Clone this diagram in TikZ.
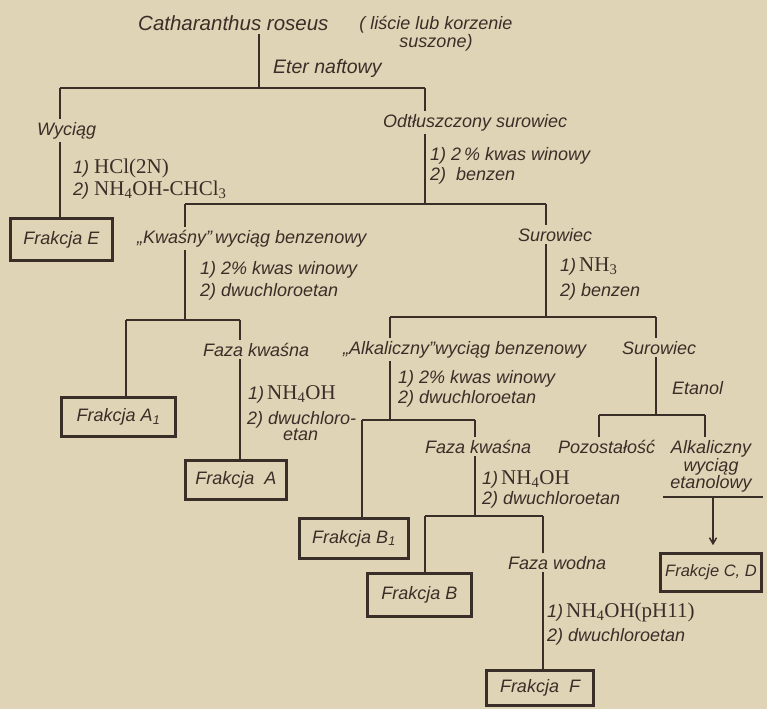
\documentclass[tikz,border=0pt]{standalone}
\usepackage{fontspec}
\newfontfamily\lettfam{Liberation Sans}
\newfontfamily\chemfam{Liberation Serif}
\usetikzlibrary{arrows.meta}
\definecolor{paper}{RGB}{224,212,182}
\definecolor{ink}{RGB}{58,46,40}
\newcommand\lettf{\lettfam\itshape\fontsize{18}{20}\selectfont}
\newcommand\chemf{\chemfam\upshape\fontsize{21}{20}\selectfont}
\newcommand\chem[1]{{\chemf #1}}
\tikzset{
  lbl/.style={anchor=base west, inner xsep=0pt, inner ysep=3pt, font=\lettf, text=ink},
  lblc/.style={lbl, anchor=base},
  lblm/.style={inner xsep=0pt, inner ysep=3pt, text=ink},
  frk/.style={draw=ink, line width=2.6pt, font=\lettf, text=ink, inner sep=0pt, anchor=center},
  ln/.style={draw=ink, line width=1.5pt},
}
\begin{document}
\begin{tikzpicture}[x=1pt,y=-1pt]
\fill[paper] (0,0) rectangle (767,709);
\useasboundingbox (0,0) rectangle (767,709);

% text nodes
\node[lbl, font=\lettfam\itshape\fontsize{20.5}{20}\selectfont] (cr) at (138,31) {Catharanthus roseus};
\node[lblm, anchor=north, align=center, font=\lettfam\itshape\fontsize{18}{16}\selectfont] (crn) at (436,13) {( liście lub korzenie\\suszone)};
\node[lbl, font=\lettfam\itshape\fontsize{19.5}{20}\selectfont] (eter) at (273,73) {Eter naftowy};
\node[lbl] (wyc) at (37,135) {Wyciąg};
\node[lbl] (odt) at (383,127) {Odtłuszczony surowiec};
\node[lbl] (r1a) at (430,160) {1)\ 2\,\% kwas winowy};
\node[lbl] (r1b) at (430,180) {2)\ \ benzen};
\node[lbl] (hcla) at (73,173) {1)\ \chem{HCl(2N)}};
\node[lbl] (hclb) at (73,195) {2)\ \chem{NH\textsubscript{4}OH-CHCl\textsubscript{3}}};
\node[lbl] (kw) at (137,243) {„Kwaśny”\,wyciąg benzenowy};
\node[lbl] (r2a) at (200,274) {1)\ 2\% kwas winowy};
\node[lbl] (r2b) at (200,296) {2)\ dwuchloroetan};
\node[lbl] (fk1) at (203,356) {Faza kwaśna};
\node[lbl] (r3a) at (248,399) {1)\,\chem{NH\textsubscript{4}OH}};
\node[lblm, anchor=north west, align=left, font=\lettfam\itshape\fontsize{18}{15}\selectfont] (r3b) at (247,408) {2) dwuchloro-\\\hspace*{36pt}etan};
\node[lbl] (sur1) at (518,241) {Surowiec};
\node[lbl] (r4a) at (560,271) {1)\,\chem{NH\textsubscript{3}}};
\node[lbl] (r4b) at (560,296) {2) benzen};
\node[lbl] (alk) at (343,354) {„Alkaliczny”wyciąg benzenowy};
\node[lbl] (sur2) at (622,354) {Surowiec};
\node[lbl] (r5a) at (398,383) {1) 2\% kwas winowy};
\node[lbl] (r5b) at (398,403) {2) dwuchloroetan};
\node[lbl] (etn) at (672,394) {Etanol};
\node[lbl] (fk2) at (425,453) {Faza kwaśna};
\node[lbl] (poz) at (558,453) {Pozostałość};
\node[lblm, anchor=north, align=center, font=\lettfam\itshape\fontsize{18}{15.5}\selectfont] (alw) at (711,437) {Alkaliczny\\wyciąg\\etanolowy};
\node[lbl] (r6a) at (482,484) {1)\,\chem{NH\textsubscript{4}OH}};
\node[lbl] (r6b) at (482,504) {2) dwuchloroetan};
\node[lbl] (wod) at (508,569) {Faza wodna};
\node[lbl] (r7a) at (547,617) {1)\,\chem{NH\textsubscript{4}OH(pH11)}};
\node[lbl] (r7b) at (547,641) {2) dwuchloroetan};

% boxes
\node[frk, minimum width=102pt, minimum height=42pt] (fE) at (61.5,239.5) {Frakcja E};
\node[frk, minimum width=114pt, minimum height=39pt] (fA1) at (118.5,417) {Frakcja A\textsubscript{1}};
\node[frk, minimum width=101pt, minimum height=39pt] (fA) at (236,480) {Frakcja\ \ A};
\node[frk, minimum width=109pt, minimum height=40pt] (fB1) at (354,538.5) {Frakcja B\textsubscript{1}};
\node[frk, minimum width=104pt, minimum height=43pt] (fB) at (419.5,595) {Frakcja B};
\node[frk, minimum width=107pt, minimum height=35pt] (fF) at (540,688) {Frakcja\ \ F};
\node[frk, minimum width=101pt, minimum height=38pt, font=\lettfam\itshape\fontsize{16.5}{20}\selectfont] (fCD) at (711,572.5) {Frakcje C, D};

% junctions
\coordinate (j1) at (259,88);
\coordinate (b1L) at (60,88);   \coordinate (b1R) at (425,88);
\coordinate (b2M) at (425,204); \coordinate (b2L) at (185,204); \coordinate (b2R) at (546,204);
\coordinate (b3M) at (185,320); \coordinate (b3L) at (126,320); \coordinate (b3R) at (240,320);
\coordinate (b4M) at (546,317); \coordinate (b4L) at (390,317); \coordinate (b4R) at (656,317);
\coordinate (b5M) at (390,420); \coordinate (b5L) at (362,420); \coordinate (b5R) at (475,420);
\coordinate (b6M) at (475,516); \coordinate (b6L) at (425,516); \coordinate (b6R) at (543,516);
\coordinate (b7M) at (656,415); \coordinate (b7L) at (599,415); \coordinate (b7R) at (705,415);
\coordinate (ulL) at (663,497); \coordinate (ulR) at (763,497); \coordinate (ulA) at (713,497);

% connectors
\draw[ln] (cr.south -| j1) -- (j1);
\draw[ln] (b1L) -- (b1R);
\draw[ln] (b1L) -- (wyc.north -| b1L);
\draw[ln] (b1R) -- (odt.north -| b1R);
\draw[ln] (wyc.south -| b1L) -- (fE.north -| b1L);
\draw[ln] (odt.south -| b2M) -- (b2M);
\draw[ln] (b2L) -- (b2R);
\draw[ln] (b2L) -- (kw.north -| b2L);
\draw[ln] (b2R) -- (sur1.north -| b2R);
\draw[ln] (kw.south -| b3M) -- (b3M);
\draw[ln] (b3L) -- (b3R);
\draw[ln] (b3L) -- (fA1.north -| b3L);
\draw[ln] (b3R) -- (fk1.north -| b3R);
\draw[ln] (fk1.south -| b3R) -- (fA.north -| b3R);
\draw[ln] (sur1.south -| b4M) -- (b4M);
\draw[ln] (b4L) -- (b4R);
\draw[ln] (b4L) -- (alk.north -| b4L);
\draw[ln] (b4R) -- (sur2.north -| b4R);
\draw[ln] (alk.south -| b5M) -- (b5M);
\draw[ln] (b5L) -- (b5R);
\draw[ln] (b5L) -- (fB1.north -| b5L);
\draw[ln] (b5R) -- (fk2.north -| b5R);
\draw[ln] (fk2.south -| b6M) -- (b6M);
\draw[ln] (b6L) -- (b6R);
\draw[ln] (b6L) -- (fB.north -| b6L);
\draw[ln] (b6R) -- (wod.north -| b6R);
\draw[ln] (wod.south -| b6R) -- (fF.north -| b6R);
\draw[ln] (sur2.south -| b7M) -- (b7M);
\draw[ln] (b7L) -- (b7R);
\draw[ln] (b7L) -- (poz.north -| b7L);
\draw[ln] (b7R) -- (alw.north -| b7R);
\draw[ln] (ulL) -- (ulR);
\draw[ln, -{Straight Barb[length=6pt,width=7pt]}, shorten >=7pt] (ulA) -- (fCD.north -| ulA);
\end{tikzpicture}
\end{document}
